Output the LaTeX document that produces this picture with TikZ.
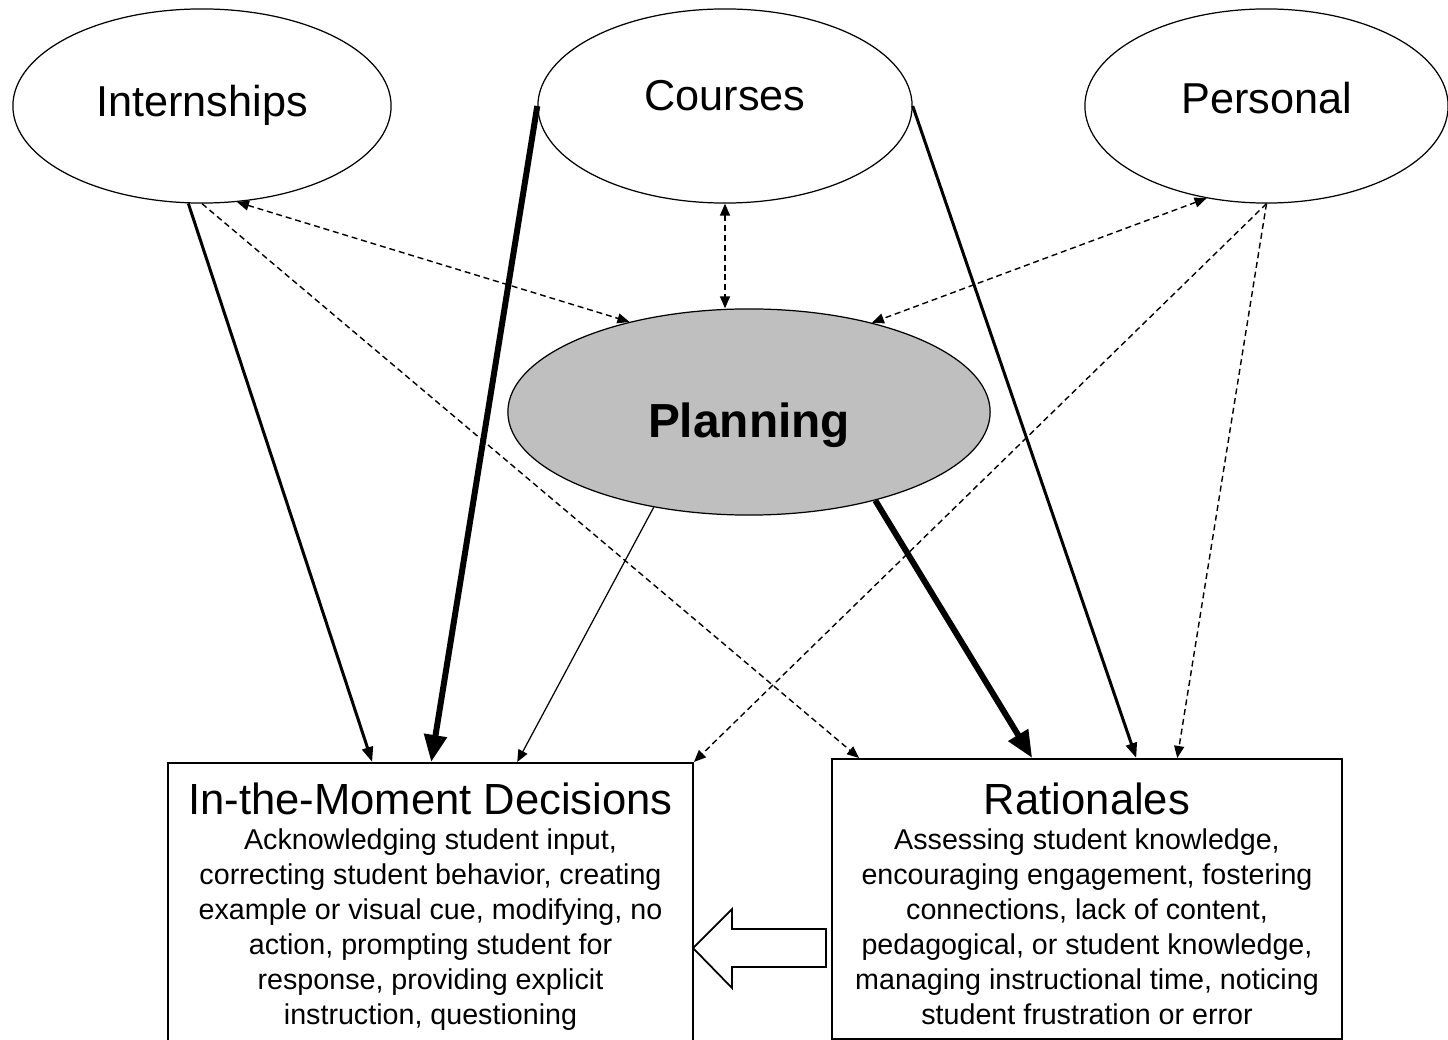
\documentclass[tikz,border=0pt]{standalone}
\usepackage{fontspec}
\setmainfont{Liberation Sans}
\usetikzlibrary{shapes.geometric,arrows.meta}
\tikzset{
  source/.style={draw,ellipse,line width=0.35pt,minimum height=1.94cm,font=\fontsize{12.3}{14}\selectfont},
  outcome/.style={draw,rectangle,line width=0.45pt,align=flush center,inner xsep=0pt,inner ysep=0.1cm,anchor=north,
    font=\fontsize{8.15}{9.96}\selectfont},
  medarrow/.style={line width=0.85pt,-{Triangle[length=0.15cm,width=0.11cm]}},
  heavyarrow/.style={line width=1.7pt,-{Triangle[length=0.27cm,width=0.22cm]}},
  thinarrow/.style={line width=0.35pt,-{Triangle[length=0.12cm,width=0.1cm]}},
  dasharrow/.style={line width=0.4pt,dash pattern=on 1.7pt off 1.1pt,-{Triangle[length=0.12cm,width=0.1cm]}},
  twoway/.style={dasharrow,{Triangle[length=0.12cm,width=0.1cm]}-{Triangle[length=0.12cm,width=0.1cm]}}
}
\newcommand{\boxtitle}[1]{{\fontsize{12.4}{14}\selectfont\rule{0pt}{0.42cm}#1\par}}
% text placed by its baseline
\newcommand{\lbl}[2]{\raisebox{#1}[0pt][0pt]{#2}}
\begin{document}
\begin{tikzpicture}[x=0.01cm,y=-0.01cm]
\useasboundingbox (0,0) rectangle (1448,1040);
\node[source,minimum width=3.78cm] (intern) at (202,106) {\lbl{-0.10cm}{Internships}};
\node[source,minimum width=3.74cm] (courses) at (725,106) {\lbl{-0.05cm}{Courses}};
\node[source,minimum width=3.63cm] (pers) at (1266.5,106) {\lbl{-0.08cm}{Personal}};
\node[draw,ellipse,line width=0.35pt,fill=black!25,minimum width=4.82cm,minimum height=2.06cm,
  font=\fontsize{13.6}{16}\selectfont\bfseries] (plan) at (749,412) {\lbl{-0.25cm}{Planning}};
\node[outcome,text width=5.25cm] (imd) at (430.5,762) {\boxtitle{In-the-Moment Decisions}
  Acknowledging student input,\\ correcting student behavior, creating\\
  example or visual cue, modifying, no\\ action, prompting student for\\
  response, providing explicit\\ instruction, questioning};
\node[outcome,text width=5.1cm,minimum height=2.8cm] (rat) at (1087,758) {\boxtitle{Rationales}
  Assessing student knowledge,\\ encouraging engagement, fostering\\
  connections, lack of content,\\ pedagogical, or student knowledge,\\
  managing instructional time, noticing\\ student frustration or error};
% solid links
\draw[medarrow] (intern.262) -- ([xshift=2.05cm]imd.north west);
\draw[heavyarrow] (courses.west) -- ([xshift=2.64cm]imd.north west);
\draw[thinarrow] (plan.225) -- ([xshift=3.5cm]imd.north west);
\draw[heavyarrow] (plan.-35) -- ([xshift=2.01cm]rat.north west);
\draw[medarrow] (courses.east) -- ([xshift=3.05cm]rat.north west);
% dashed links
\draw[dasharrow] (intern.south) -- ([xshift=0.28cm]rat.north west);
\draw[dasharrow] (pers.south) -- (imd.north east);
\draw[dasharrow] (pers.south) -- ([xshift=3.46cm]rat.north west);
\draw[twoway] (intern.-70) -- (plan.143);
\draw[twoway] (courses.south) -- (courses.south |- plan.north);
\draw[twoway] (pers.237) -- (plan.36);
% block arrow
\draw[line width=0.5pt,fill=white] (693,948) -- (732,909) -- (732,929) -- (826,929) -- (826,967) -- (732,967) -- (732,988) -- cycle;
\end{tikzpicture}
\end{document}
